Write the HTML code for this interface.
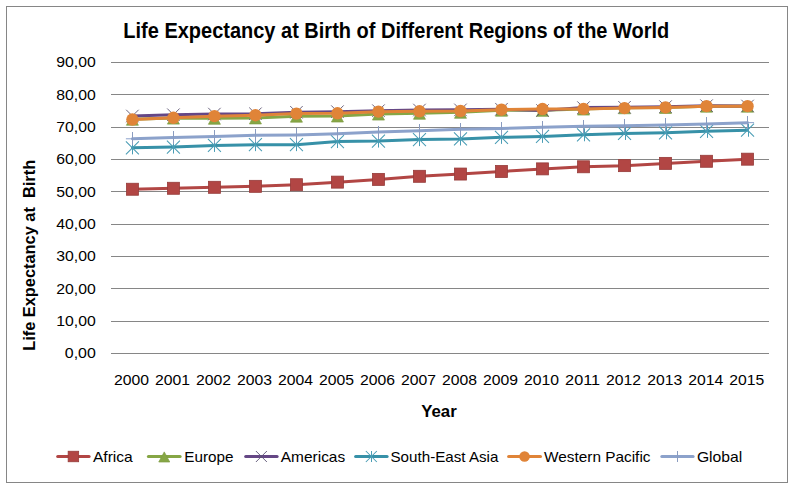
<!DOCTYPE html>
<html><head><meta charset="utf-8"><style>
html,body{margin:0;padding:0;background:#fff;}
svg{display:block;}
text{font-family:"Liberation Sans",sans-serif;fill:#000;}
.ax{font-size:15.3px;}
.lg{font-size:14.5px;}
.tt{font-size:22px;font-weight:bold;}
.at{font-size:16px;font-weight:bold;}
</style></head><body>
<svg width="793" height="489" viewBox="0 0 793 489">
<rect x="6.5" y="6.5" width="781" height="476" fill="#fff" stroke="#868686" stroke-width="1"/>
<line x1="111" y1="62.5" x2="769" y2="62.5" stroke="#868686" stroke-width="1"/>
<line x1="111" y1="94.5" x2="769" y2="94.5" stroke="#868686" stroke-width="1"/>
<line x1="111" y1="127.5" x2="769" y2="127.5" stroke="#868686" stroke-width="1"/>
<line x1="111" y1="159.5" x2="769" y2="159.5" stroke="#868686" stroke-width="1"/>
<line x1="111" y1="191.5" x2="769" y2="191.5" stroke="#868686" stroke-width="1"/>
<line x1="111" y1="224.5" x2="769" y2="224.5" stroke="#868686" stroke-width="1"/>
<line x1="111" y1="256.5" x2="769" y2="256.5" stroke="#868686" stroke-width="1"/>
<line x1="111" y1="288.5" x2="769" y2="288.5" stroke="#868686" stroke-width="1"/>
<line x1="111" y1="321.5" x2="769" y2="321.5" stroke="#868686" stroke-width="1"/>
<line x1="111" y1="353.5" x2="769" y2="353.5" stroke="#868686" stroke-width="1"/>
<text x="95.8" y="67.40" text-anchor="end" class="ax" textLength="39.5" lengthAdjust="spacingAndGlyphs">90,00</text>
<text x="95.8" y="99.73" text-anchor="end" class="ax" textLength="39.5" lengthAdjust="spacingAndGlyphs">80,00</text>
<text x="95.8" y="132.07" text-anchor="end" class="ax" textLength="39.5" lengthAdjust="spacingAndGlyphs">70,00</text>
<text x="95.8" y="164.40" text-anchor="end" class="ax" textLength="39.5" lengthAdjust="spacingAndGlyphs">60,00</text>
<text x="95.8" y="196.73" text-anchor="end" class="ax" textLength="39.5" lengthAdjust="spacingAndGlyphs">50,00</text>
<text x="95.8" y="229.07" text-anchor="end" class="ax" textLength="39.5" lengthAdjust="spacingAndGlyphs">40,00</text>
<text x="95.8" y="261.40" text-anchor="end" class="ax" textLength="39.5" lengthAdjust="spacingAndGlyphs">30,00</text>
<text x="95.8" y="293.73" text-anchor="end" class="ax" textLength="39.5" lengthAdjust="spacingAndGlyphs">20,00</text>
<text x="95.8" y="326.07" text-anchor="end" class="ax" textLength="39.5" lengthAdjust="spacingAndGlyphs">10,00</text>
<text x="95.8" y="358.40" text-anchor="end" class="ax" textLength="31.0" lengthAdjust="spacingAndGlyphs">0,00</text>
<text transform="translate(131.50,385)" x="0" y="0" text-anchor="middle" class="ax" textLength="35" lengthAdjust="spacingAndGlyphs">2000</text>
<text transform="translate(172.51,385)" x="0" y="0" text-anchor="middle" class="ax" textLength="35" lengthAdjust="spacingAndGlyphs">2001</text>
<text transform="translate(213.52,385)" x="0" y="0" text-anchor="middle" class="ax" textLength="35" lengthAdjust="spacingAndGlyphs">2002</text>
<text transform="translate(254.53,385)" x="0" y="0" text-anchor="middle" class="ax" textLength="35" lengthAdjust="spacingAndGlyphs">2003</text>
<text transform="translate(295.54,385)" x="0" y="0" text-anchor="middle" class="ax" textLength="35" lengthAdjust="spacingAndGlyphs">2004</text>
<text transform="translate(336.55,385)" x="0" y="0" text-anchor="middle" class="ax" textLength="35" lengthAdjust="spacingAndGlyphs">2005</text>
<text transform="translate(377.56,385)" x="0" y="0" text-anchor="middle" class="ax" textLength="35" lengthAdjust="spacingAndGlyphs">2006</text>
<text transform="translate(418.57,385)" x="0" y="0" text-anchor="middle" class="ax" textLength="35" lengthAdjust="spacingAndGlyphs">2007</text>
<text transform="translate(459.58,385)" x="0" y="0" text-anchor="middle" class="ax" textLength="35" lengthAdjust="spacingAndGlyphs">2008</text>
<text transform="translate(500.59,385)" x="0" y="0" text-anchor="middle" class="ax" textLength="35" lengthAdjust="spacingAndGlyphs">2009</text>
<text transform="translate(541.60,385)" x="0" y="0" text-anchor="middle" class="ax" textLength="35" lengthAdjust="spacingAndGlyphs">2010</text>
<text transform="translate(582.61,385)" x="0" y="0" text-anchor="middle" class="ax" textLength="35" lengthAdjust="spacingAndGlyphs">2011</text>
<text transform="translate(623.62,385)" x="0" y="0" text-anchor="middle" class="ax" textLength="35" lengthAdjust="spacingAndGlyphs">2012</text>
<text transform="translate(664.63,385)" x="0" y="0" text-anchor="middle" class="ax" textLength="35" lengthAdjust="spacingAndGlyphs">2013</text>
<text transform="translate(705.64,385)" x="0" y="0" text-anchor="middle" class="ax" textLength="35" lengthAdjust="spacingAndGlyphs">2014</text>
<text transform="translate(746.65,385)" x="0" y="0" text-anchor="middle" class="ax" textLength="35" lengthAdjust="spacingAndGlyphs">2015</text>
<polyline points="132.40,189.25 173.41,188.28 214.42,187.31 255.43,186.34 296.44,184.72 337.45,182.13 378.46,179.39 419.47,176.31 460.48,174.05 501.49,171.46 542.50,168.88 583.51,166.78 624.52,165.64 665.53,163.38 706.54,161.28 747.55,159.18" fill="none" stroke="#B24644" stroke-width="3" stroke-linejoin="round" stroke-linecap="round"/>
<rect x="126.40" y="183.25" width="12" height="12" fill="#B24644" stroke="#963C3A" stroke-width="0.8"/>
<rect x="167.41" y="182.28" width="12" height="12" fill="#B24644" stroke="#963C3A" stroke-width="0.8"/>
<rect x="208.42" y="181.31" width="12" height="12" fill="#B24644" stroke="#963C3A" stroke-width="0.8"/>
<rect x="249.43" y="180.34" width="12" height="12" fill="#B24644" stroke="#963C3A" stroke-width="0.8"/>
<rect x="290.44" y="178.72" width="12" height="12" fill="#B24644" stroke="#963C3A" stroke-width="0.8"/>
<rect x="331.45" y="176.13" width="12" height="12" fill="#B24644" stroke="#963C3A" stroke-width="0.8"/>
<rect x="372.46" y="173.39" width="12" height="12" fill="#B24644" stroke="#963C3A" stroke-width="0.8"/>
<rect x="413.47" y="170.31" width="12" height="12" fill="#B24644" stroke="#963C3A" stroke-width="0.8"/>
<rect x="454.48" y="168.05" width="12" height="12" fill="#B24644" stroke="#963C3A" stroke-width="0.8"/>
<rect x="495.49" y="165.46" width="12" height="12" fill="#B24644" stroke="#963C3A" stroke-width="0.8"/>
<rect x="536.50" y="162.88" width="12" height="12" fill="#B24644" stroke="#963C3A" stroke-width="0.8"/>
<rect x="577.51" y="160.78" width="12" height="12" fill="#B24644" stroke="#963C3A" stroke-width="0.8"/>
<rect x="618.52" y="159.64" width="12" height="12" fill="#B24644" stroke="#963C3A" stroke-width="0.8"/>
<rect x="659.53" y="157.38" width="12" height="12" fill="#B24644" stroke="#963C3A" stroke-width="0.8"/>
<rect x="700.54" y="155.28" width="12" height="12" fill="#B24644" stroke="#963C3A" stroke-width="0.8"/>
<rect x="741.55" y="153.18" width="12" height="12" fill="#B24644" stroke="#963C3A" stroke-width="0.8"/>
<polyline points="132.40,119.25 173.41,118.11 214.42,118.28 255.43,117.95 296.44,116.17 337.45,116.01 378.46,114.07 419.47,113.26 460.48,112.29 501.49,110.19 542.50,110.35 583.51,109.06 624.52,107.77 665.53,107.44 706.54,106.15 747.55,106.15" fill="none" stroke="#86A645" stroke-width="3" stroke-linejoin="round" stroke-linecap="round"/>
<path d="M132.40,114.21 L138.40,125.25 L126.40,125.25 Z" fill="#86A645" stroke="#7E9C42" stroke-width="0.7"/>
<path d="M173.41,113.07 L179.41,124.11 L167.41,124.11 Z" fill="#86A645" stroke="#7E9C42" stroke-width="0.7"/>
<path d="M214.42,113.24 L220.42,124.28 L208.42,124.28 Z" fill="#86A645" stroke="#7E9C42" stroke-width="0.7"/>
<path d="M255.43,112.91 L261.43,123.95 L249.43,123.95 Z" fill="#86A645" stroke="#7E9C42" stroke-width="0.7"/>
<path d="M296.44,111.13 L302.44,122.17 L290.44,122.17 Z" fill="#86A645" stroke="#7E9C42" stroke-width="0.7"/>
<path d="M337.45,110.97 L343.45,122.01 L331.45,122.01 Z" fill="#86A645" stroke="#7E9C42" stroke-width="0.7"/>
<path d="M378.46,109.03 L384.46,120.07 L372.46,120.07 Z" fill="#86A645" stroke="#7E9C42" stroke-width="0.7"/>
<path d="M419.47,108.22 L425.47,119.26 L413.47,119.26 Z" fill="#86A645" stroke="#7E9C42" stroke-width="0.7"/>
<path d="M460.48,107.25 L466.48,118.29 L454.48,118.29 Z" fill="#86A645" stroke="#7E9C42" stroke-width="0.7"/>
<path d="M501.49,105.15 L507.49,116.19 L495.49,116.19 Z" fill="#86A645" stroke="#7E9C42" stroke-width="0.7"/>
<path d="M542.50,105.31 L548.50,116.35 L536.50,116.35 Z" fill="#86A645" stroke="#7E9C42" stroke-width="0.7"/>
<path d="M583.51,104.02 L589.51,115.06 L577.51,115.06 Z" fill="#86A645" stroke="#7E9C42" stroke-width="0.7"/>
<path d="M624.52,102.73 L630.52,113.77 L618.52,113.77 Z" fill="#86A645" stroke="#7E9C42" stroke-width="0.7"/>
<path d="M665.53,102.40 L671.53,113.44 L659.53,113.44 Z" fill="#86A645" stroke="#7E9C42" stroke-width="0.7"/>
<path d="M706.54,101.11 L712.54,112.15 L700.54,112.15 Z" fill="#86A645" stroke="#7E9C42" stroke-width="0.7"/>
<path d="M747.55,101.11 L753.55,112.15 L741.55,112.15 Z" fill="#86A645" stroke="#7E9C42" stroke-width="0.7"/>
<polyline points="132.40,116.01 173.41,114.72 214.42,114.07 255.43,113.75 296.44,112.29 337.45,111.65 378.46,110.68 419.47,110.03 460.48,109.87 501.49,109.22 542.50,110.52 583.51,107.61 624.52,107.28 665.53,106.64 706.54,105.67 747.55,105.99" fill="none" stroke="#654785" stroke-width="3" stroke-linejoin="round" stroke-linecap="round"/>
<path d="M126.15,109.76 L138.65,122.26 M138.65,109.76 L126.15,122.26" stroke="#5A5272" stroke-width="0.9"/>
<path d="M167.16,108.47 L179.66,120.97 M179.66,108.47 L167.16,120.97" stroke="#5A5272" stroke-width="0.9"/>
<path d="M208.17,107.82 L220.67,120.32 M220.67,107.82 L208.17,120.32" stroke="#5A5272" stroke-width="0.9"/>
<path d="M249.18,107.50 L261.68,120.00 M261.68,107.50 L249.18,120.00" stroke="#5A5272" stroke-width="0.9"/>
<path d="M290.19,106.04 L302.69,118.54 M302.69,106.04 L290.19,118.54" stroke="#5A5272" stroke-width="0.9"/>
<path d="M331.20,105.40 L343.70,117.90 M343.70,105.40 L331.20,117.90" stroke="#5A5272" stroke-width="0.9"/>
<path d="M372.21,104.43 L384.71,116.93 M384.71,104.43 L372.21,116.93" stroke="#5A5272" stroke-width="0.9"/>
<path d="M413.22,103.78 L425.72,116.28 M425.72,103.78 L413.22,116.28" stroke="#5A5272" stroke-width="0.9"/>
<path d="M454.23,103.62 L466.73,116.12 M466.73,103.62 L454.23,116.12" stroke="#5A5272" stroke-width="0.9"/>
<path d="M495.24,102.97 L507.74,115.47 M507.74,102.97 L495.24,115.47" stroke="#5A5272" stroke-width="0.9"/>
<path d="M536.25,104.27 L548.75,116.77 M548.75,104.27 L536.25,116.77" stroke="#5A5272" stroke-width="0.9"/>
<path d="M577.26,101.36 L589.76,113.86 M589.76,101.36 L577.26,113.86" stroke="#5A5272" stroke-width="0.9"/>
<path d="M618.27,101.03 L630.77,113.53 M630.77,101.03 L618.27,113.53" stroke="#5A5272" stroke-width="0.9"/>
<path d="M659.28,100.39 L671.78,112.89 M671.78,100.39 L659.28,112.89" stroke="#5A5272" stroke-width="0.9"/>
<path d="M700.29,99.42 L712.79,111.92 M712.79,99.42 L700.29,111.92" stroke="#5A5272" stroke-width="0.9"/>
<path d="M741.30,99.74 L753.80,112.24 M753.80,99.74 L741.30,112.24" stroke="#5A5272" stroke-width="0.9"/>
<polyline points="132.40,147.86 173.41,147.05 214.42,145.44 255.43,144.63 296.44,144.63 337.45,141.56 378.46,141.07 419.47,139.62 460.48,138.97 501.49,137.35 542.50,136.38 583.51,134.77 624.52,133.47 665.53,132.83 706.54,131.37 747.55,130.24" fill="none" stroke="#3791A8" stroke-width="3" stroke-linejoin="round" stroke-linecap="round"/>
<path d="M125.90,141.36 L138.90,154.36 M138.90,141.36 L125.90,154.36" stroke="#4A9DB5" stroke-width="1.05"/><path d="M132.50,141.36 L132.50,154.36" stroke="#4A9DB5" stroke-width="1"/>
<path d="M166.91,140.55 L179.91,153.55 M179.91,140.55 L166.91,153.55" stroke="#4A9DB5" stroke-width="1.05"/><path d="M173.50,140.55 L173.50,153.55" stroke="#4A9DB5" stroke-width="1"/>
<path d="M207.92,138.94 L220.92,151.94 M220.92,138.94 L207.92,151.94" stroke="#4A9DB5" stroke-width="1.05"/><path d="M214.50,138.94 L214.50,151.94" stroke="#4A9DB5" stroke-width="1"/>
<path d="M248.93,138.13 L261.93,151.13 M261.93,138.13 L248.93,151.13" stroke="#4A9DB5" stroke-width="1.05"/><path d="M255.50,138.13 L255.50,151.13" stroke="#4A9DB5" stroke-width="1"/>
<path d="M289.94,138.13 L302.94,151.13 M302.94,138.13 L289.94,151.13" stroke="#4A9DB5" stroke-width="1.05"/><path d="M296.50,138.13 L296.50,151.13" stroke="#4A9DB5" stroke-width="1"/>
<path d="M330.95,135.06 L343.95,148.06 M343.95,135.06 L330.95,148.06" stroke="#4A9DB5" stroke-width="1.05"/><path d="M337.50,135.06 L337.50,148.06" stroke="#4A9DB5" stroke-width="1"/>
<path d="M371.96,134.57 L384.96,147.57 M384.96,134.57 L371.96,147.57" stroke="#4A9DB5" stroke-width="1.05"/><path d="M378.50,134.57 L378.50,147.57" stroke="#4A9DB5" stroke-width="1"/>
<path d="M412.97,133.12 L425.97,146.12 M425.97,133.12 L412.97,146.12" stroke="#4A9DB5" stroke-width="1.05"/><path d="M419.50,133.12 L419.50,146.12" stroke="#4A9DB5" stroke-width="1"/>
<path d="M453.98,132.47 L466.98,145.47 M466.98,132.47 L453.98,145.47" stroke="#4A9DB5" stroke-width="1.05"/><path d="M460.50,132.47 L460.50,145.47" stroke="#4A9DB5" stroke-width="1"/>
<path d="M494.99,130.85 L507.99,143.85 M507.99,130.85 L494.99,143.85" stroke="#4A9DB5" stroke-width="1.05"/><path d="M501.50,130.85 L501.50,143.85" stroke="#4A9DB5" stroke-width="1"/>
<path d="M536.00,129.88 L549.00,142.88 M549.00,129.88 L536.00,142.88" stroke="#4A9DB5" stroke-width="1.05"/><path d="M542.50,129.88 L542.50,142.88" stroke="#4A9DB5" stroke-width="1"/>
<path d="M577.01,128.27 L590.01,141.27 M590.01,128.27 L577.01,141.27" stroke="#4A9DB5" stroke-width="1.05"/><path d="M584.50,128.27 L584.50,141.27" stroke="#4A9DB5" stroke-width="1"/>
<path d="M618.02,126.97 L631.02,139.97 M631.02,126.97 L618.02,139.97" stroke="#4A9DB5" stroke-width="1.05"/><path d="M625.50,126.97 L625.50,139.97" stroke="#4A9DB5" stroke-width="1"/>
<path d="M659.03,126.33 L672.03,139.33 M672.03,126.33 L659.03,139.33" stroke="#4A9DB5" stroke-width="1.05"/><path d="M666.50,126.33 L666.50,139.33" stroke="#4A9DB5" stroke-width="1"/>
<path d="M700.04,124.87 L713.04,137.87 M713.04,124.87 L700.04,137.87" stroke="#4A9DB5" stroke-width="1.05"/><path d="M707.50,124.87 L707.50,137.87" stroke="#4A9DB5" stroke-width="1"/>
<path d="M741.05,123.74 L754.05,136.74 M754.05,123.74 L741.05,136.74" stroke="#4A9DB5" stroke-width="1.05"/><path d="M748.50,123.74 L748.50,136.74" stroke="#4A9DB5" stroke-width="1"/>
<polyline points="132.40,119.57 173.41,117.79 214.42,116.17 255.43,115.20 296.44,113.59 337.45,113.26 378.46,111.65 419.47,111.32 460.48,111.00 501.49,109.71 542.50,109.06 583.51,108.90 624.52,108.09 665.53,107.44 706.54,106.15 747.55,106.15" fill="none" stroke="#E08438" stroke-width="3" stroke-linejoin="round" stroke-linecap="round"/>
<circle cx="132.40" cy="119.57" r="6.2" fill="#E08438"/>
<circle cx="173.41" cy="117.79" r="6.2" fill="#E08438"/>
<circle cx="214.42" cy="116.17" r="6.2" fill="#E08438"/>
<circle cx="255.43" cy="115.20" r="6.2" fill="#E08438"/>
<circle cx="296.44" cy="113.59" r="6.2" fill="#E08438"/>
<circle cx="337.45" cy="113.26" r="6.2" fill="#E08438"/>
<circle cx="378.46" cy="111.65" r="6.2" fill="#E08438"/>
<circle cx="419.47" cy="111.32" r="6.2" fill="#E08438"/>
<circle cx="460.48" cy="111.00" r="6.2" fill="#E08438"/>
<circle cx="501.49" cy="109.71" r="6.2" fill="#E08438"/>
<circle cx="542.50" cy="109.06" r="6.2" fill="#E08438"/>
<circle cx="583.51" cy="108.90" r="6.2" fill="#E08438"/>
<circle cx="624.52" cy="108.09" r="6.2" fill="#E08438"/>
<circle cx="665.53" cy="107.44" r="6.2" fill="#E08438"/>
<circle cx="706.54" cy="106.15" r="6.2" fill="#E08438"/>
<circle cx="747.55" cy="106.15" r="6.2" fill="#E08438"/>
<polyline points="132.40,138.81 173.41,137.51 214.42,136.54 255.43,135.25 296.44,134.93 337.45,133.80 378.46,132.02 419.47,130.72 460.48,129.27 501.49,128.46 542.50,127.33 583.51,126.20 624.52,125.87 665.53,124.90 706.54,123.93 747.55,122.64" fill="none" stroke="#8CA2CB" stroke-width="3" stroke-linejoin="round" stroke-linecap="round"/>
<path d="M125.90,138.81 L138.90,138.81" stroke="#8CA2CB" stroke-width="1"/><path d="M132.40,132.31 L132.40,145.31" stroke="#8A9CC0" stroke-width="1" shape-rendering="crispEdges"/>
<path d="M166.91,137.51 L179.91,137.51" stroke="#8CA2CB" stroke-width="1"/><path d="M173.41,131.01 L173.41,144.01" stroke="#8A9CC0" stroke-width="1" shape-rendering="crispEdges"/>
<path d="M207.92,136.54 L220.92,136.54" stroke="#8CA2CB" stroke-width="1"/><path d="M214.42,130.04 L214.42,143.04" stroke="#8A9CC0" stroke-width="1" shape-rendering="crispEdges"/>
<path d="M248.93,135.25 L261.93,135.25" stroke="#8CA2CB" stroke-width="1"/><path d="M255.43,128.75 L255.43,141.75" stroke="#8A9CC0" stroke-width="1" shape-rendering="crispEdges"/>
<path d="M289.94,134.93 L302.94,134.93" stroke="#8CA2CB" stroke-width="1"/><path d="M296.44,128.43 L296.44,141.43" stroke="#8A9CC0" stroke-width="1" shape-rendering="crispEdges"/>
<path d="M330.95,133.80 L343.95,133.80" stroke="#8CA2CB" stroke-width="1"/><path d="M337.45,127.30 L337.45,140.30" stroke="#8A9CC0" stroke-width="1" shape-rendering="crispEdges"/>
<path d="M371.96,132.02 L384.96,132.02" stroke="#8CA2CB" stroke-width="1"/><path d="M378.46,125.52 L378.46,138.52" stroke="#8A9CC0" stroke-width="1" shape-rendering="crispEdges"/>
<path d="M412.97,130.72 L425.97,130.72" stroke="#8CA2CB" stroke-width="1"/><path d="M419.47,124.22 L419.47,137.22" stroke="#8A9CC0" stroke-width="1" shape-rendering="crispEdges"/>
<path d="M453.98,129.27 L466.98,129.27" stroke="#8CA2CB" stroke-width="1"/><path d="M460.48,122.77 L460.48,135.77" stroke="#8A9CC0" stroke-width="1" shape-rendering="crispEdges"/>
<path d="M494.99,128.46 L507.99,128.46" stroke="#8CA2CB" stroke-width="1"/><path d="M501.49,121.96 L501.49,134.96" stroke="#8A9CC0" stroke-width="1" shape-rendering="crispEdges"/>
<path d="M536.00,127.33 L549.00,127.33" stroke="#8CA2CB" stroke-width="1"/><path d="M542.50,120.83 L542.50,133.83" stroke="#8A9CC0" stroke-width="1" shape-rendering="crispEdges"/>
<path d="M577.01,126.20 L590.01,126.20" stroke="#8CA2CB" stroke-width="1"/><path d="M583.51,119.70 L583.51,132.70" stroke="#8A9CC0" stroke-width="1" shape-rendering="crispEdges"/>
<path d="M618.02,125.87 L631.02,125.87" stroke="#8CA2CB" stroke-width="1"/><path d="M624.52,119.37 L624.52,132.37" stroke="#8A9CC0" stroke-width="1" shape-rendering="crispEdges"/>
<path d="M659.03,124.90 L672.03,124.90" stroke="#8CA2CB" stroke-width="1"/><path d="M665.53,118.40 L665.53,131.40" stroke="#8A9CC0" stroke-width="1" shape-rendering="crispEdges"/>
<path d="M700.04,123.93 L713.04,123.93" stroke="#8CA2CB" stroke-width="1"/><path d="M706.54,117.43 L706.54,130.43" stroke="#8A9CC0" stroke-width="1" shape-rendering="crispEdges"/>
<path d="M741.05,122.64 L754.05,122.64" stroke="#8CA2CB" stroke-width="1"/><path d="M747.55,116.14 L747.55,129.14" stroke="#8A9CC0" stroke-width="1" shape-rendering="crispEdges"/>
<text x="396.3" y="37.9" text-anchor="middle" class="tt" textLength="546" lengthAdjust="spacingAndGlyphs">Life Expectancy at Birth of Different Regions of the World</text>
<text x="438.95" y="417.4" text-anchor="middle" class="at" textLength="35.5" lengthAdjust="spacingAndGlyphs">Year</text>
<text transform="translate(35,255.35) rotate(-90)" x="0" y="0" text-anchor="middle" class="at" xml:space="preserve" textLength="191" lengthAdjust="spacingAndGlyphs">Life Expectancy at  Birth</text>
<line x1="57.7" y1="456.5" x2="89.1" y2="456.5" stroke="#B24644" stroke-width="3" stroke-linecap="round"/>
<rect x="68.15" y="451.25" width="10.5" height="10.5" fill="#B24644" stroke="#963C3A" stroke-width="0.8"/>
<text x="92.90" y="461.7" class="lg" textLength="39.90" lengthAdjust="spacingAndGlyphs">Africa</text>
<line x1="148.4" y1="456.5" x2="180.1" y2="456.5" stroke="#86A645" stroke-width="3" stroke-linecap="round"/>
<path d="M164.25,451.88 L169.75,462.00 L158.75,462.00 Z" fill="#86A645" stroke="#7E9C42" stroke-width="0.7"/>
<text x="184.30" y="461.7" class="lg" textLength="49.20" lengthAdjust="spacingAndGlyphs">Europe</text>
<line x1="245.7" y1="456.5" x2="277.1" y2="456.5" stroke="#654785" stroke-width="3" stroke-linecap="round"/>
<path d="M255.90,451.00 L266.90,462.00 M266.90,451.00 L255.90,462.00" stroke="#5A5272" stroke-width="0.9"/>
<text x="280.80" y="461.7" class="lg" textLength="64.40" lengthAdjust="spacingAndGlyphs">Americas</text>
<line x1="355.6" y1="456.5" x2="387.1" y2="456.5" stroke="#3791A8" stroke-width="3" stroke-linecap="round"/>
<path d="M365.85,451.00 L376.85,462.00 M376.85,451.00 L365.85,462.00" stroke="#4A9DB5" stroke-width="1.05"/><path d="M371.50,451.00 L371.50,462.00" stroke="#4A9DB5" stroke-width="1"/>
<text x="390.50" y="461.7" class="lg" textLength="107.90" lengthAdjust="spacingAndGlyphs">South-East Asia</text>
<line x1="508.6" y1="456.5" x2="540.5" y2="456.5" stroke="#E08438" stroke-width="3" stroke-linecap="round"/>
<circle cx="524.55" cy="456.50" r="5.25" fill="#E08438"/>
<text x="544.00" y="461.7" class="lg" textLength="106.50" lengthAdjust="spacingAndGlyphs">Western Pacific</text>
<line x1="661.8" y1="456.5" x2="693.1" y2="456.5" stroke="#8CA2CB" stroke-width="3" stroke-linecap="round"/>
<path d="M671.95,456.50 L682.95,456.50" stroke="#8CA2CB" stroke-width="1"/><path d="M677.45,451.00 L677.45,462.00" stroke="#8A9CC0" stroke-width="1" shape-rendering="crispEdges"/>
<text x="696.90" y="461.7" class="lg" textLength="45.40" lengthAdjust="spacingAndGlyphs">Global</text>
</svg>
</body></html>
